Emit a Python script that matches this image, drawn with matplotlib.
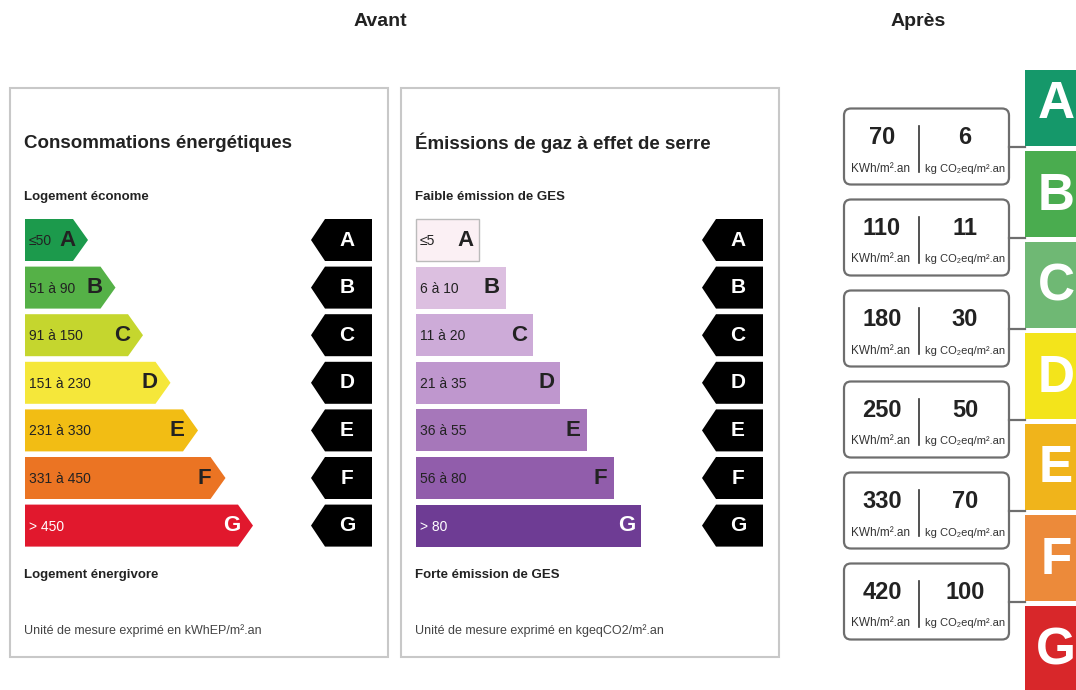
import matplotlib
matplotlib.use('Agg')
import matplotlib.pyplot as plt
from matplotlib.patches import Polygon, Rectangle, FancyBboxPatch

# Donnees
classes = ['A', 'B', 'C', 'D', 'E', 'F', 'G']
energie_plages = ['≤50', '51 à 90', '91 à 150', '151 à 230', '231 à 330', '331 à 450', '> 450']
ges_plages = ['≤5', '6 à 10', '11 à 20', '21 à 35', '36 à 55', '56 à 80', '> 80']
energie_couleurs = ['#1c9a4c', '#55b147', '#c5d62e', '#f5e73a', '#f2bd14', '#eb7423', '#e1182d']
ges_couleurs = ['#fbf0f4', '#dcbfe0', '#cdabd8', '#bf97ce', '#a677ba', '#915dab', '#6e3c94']
apres_couleurs = ['#15986a', '#4aac4f', '#6fb874', '#f3e41b', '#f0b41b', '#ec8a3a', '#d8272a']
apres_energie = [70, 110, 180, 250, 330, 420]
apres_ges = [6, 11, 30, 50, 70, 100]

plt.rcParams['font.family'] = ['Liberation Sans', 'DejaVu Sans']

fig = plt.figure(figsize=(10.76, 6.90), dpi=100)
ax = fig.add_axes([0, 0, 1, 1])
ax.set_xlim(0, 1076)
ax.set_ylim(690, 0)
ax.axis('off')

texte = '#222222'

# Titres
ax.text(380, 22, 'Avant', ha='center', va='center', fontsize=14, fontweight='bold', color=texte)
ax.text(918, 22, 'Après', ha='center', va='center', fontsize=14, fontweight='bold', color=texte)

row_top = 219
row_step = 47.6
row_h = 42


def panneau(x0, titre, haut, bas, unite, plages, couleurs, fleche, body0, pas, lettre_dx, marq_x):
    ax.add_patch(Rectangle((x0, 88), 378, 569, fill=False, ec='#c8c8c8', lw=1.5))
    ax.text(x0 + 14, 143, titre, ha='left', va='center', fontsize=13.5, fontweight='bold', color=texte)
    ax.text(x0 + 14, 197, haut, ha='left', va='center', fontsize=9.5, fontweight='bold', color=texte)
    ax.text(x0 + 14, 575, bas, ha='left', va='center', fontsize=9.5, fontweight='bold', color=texte)
    ax.text(x0 + 14, 631, unite, ha='left', va='center', fontsize=9, color='#444444')
    gauche = x0 + 15
    for i, (c, plage, coul) in enumerate(zip(classes, plages, couleurs)):
        y0 = row_top + i * row_step
        y1 = y0 + row_h
        ym = (y0 + y1) / 2
        fin = body0 + pas * i
        if fleche:
            pts = [(gauche, y0), (fin, y0), (fin + 15, ym), (fin, y1), (gauche, y1)]
            ax.add_patch(Polygon(pts, closed=True, fc=coul, ec='none'))
        else:
            ec = '#bbbbbb' if i == 0 else 'none'
            ax.add_patch(Rectangle((gauche, y0), fin - gauche, row_h, fc=coul, ec=ec, lw=1))
        col_txt = 'white' if i == 6 else texte
        ax.text(gauche + 4, ym + 1, plage, ha='left', va='center', fontsize=10, color=col_txt)
        ax.text(fin - lettre_dx, ym, c, ha='center', va='center', fontsize=16,
                fontweight='bold', color=col_txt)
        # marqueur noir
        pts = [(marq_x, ym), (marq_x + 14, y0), (marq_x + 61, y0), (marq_x + 61, y1), (marq_x + 14, y1)]
        ax.add_patch(Polygon(pts, closed=True, fc='black', ec='none'))
        ax.text(marq_x + 36, ym, c, ha='center', va='center', fontsize=15, fontweight='bold', color='white')


panneau(10, 'Consommations énergétiques', 'Logement économe', 'Logement énergivore',
        'Unité de mesure exprimé en kWhEP/m².an', energie_plages, energie_couleurs,
        True, 73, 27.5, 6, 311)
panneau(401, 'Émissions de gaz à effet de serre', 'Faible émission de GES', 'Forte émission de GES',
        'Unité de mesure exprimé en kgeqCO2/m².an', ges_plages, ges_couleurs,
        False, 479, 27, 14, 702)

# Apres : echelle de couleur
band_c0 = 103
band_step = 91
for i, (c, coul) in enumerate(zip(classes, apres_couleurs)):
    yc = band_c0 + band_step * i
    top = yc - 43 if i > 0 else 70
    bot = yc + 43
    ax.add_patch(Rectangle((1025, top), 60, bot - top, fc=coul, ec='none'))
    ax.text(1056, yc + 2, c, ha='center', va='center', fontsize=37, fontweight='bold', color='white')

# Apres : boites de valeurs
for i, (e, g) in enumerate(zip(apres_energie, apres_ges)):
    yc = band_c0 + band_step * i + band_step / 2 - 2
    ax.add_patch(FancyBboxPatch((844, yc - 38), 165, 76, boxstyle='round,pad=0,rounding_size=7',
                                fc='white', ec='#6e6e6e', lw=1.6))
    ax.plot([1009, 1025], [yc, yc], color='#6e6e6e', lw=1.6)
    ax.plot([919, 919], [yc - 21, yc + 25], color='#333333', lw=1.2)
    ax.text(882, yc - 9, str(e), ha='center', va='center', fontsize=17, fontweight='bold', color=texte)
    ax.text(965, yc - 9, str(g), ha='center', va='center', fontsize=17, fontweight='bold', color=texte)
    ax.text(881, yc + 22, 'KWh/m².an', ha='center', va='center', fontsize=8.5, color='#333333')
    ax.text(965, yc + 22, 'kg CO₂eq/m².an', ha='center', va='center', fontsize=8,
            color='#333333', family=['Liberation Sans', 'DejaVu Sans'])

fig.savefig('out.png', dpi=100, facecolor='white')
